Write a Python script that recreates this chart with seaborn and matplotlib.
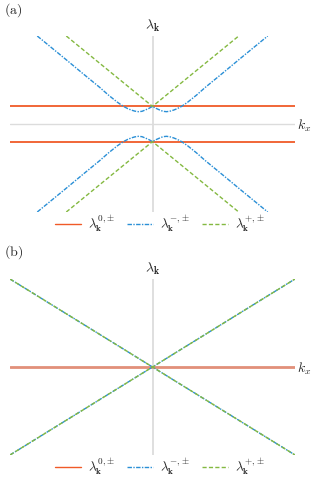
import matplotlib
matplotlib.use("Agg")
import matplotlib.pyplot as plt
import seaborn as sns
import pandas as pd
from matplotlib.lines import Line2D

sns.set_theme(style="white")
plt.rcParams["mathtext.fontset"] = "cm"
plt.rcParams["font.family"] = ["DejaVu Serif"]

# ---- data (panel a) ----
xlim = [-8.1, 8.1]
a_red_k = [-8.1, 8.1]
a_red_upper = [1.0, 1.0]
a_red_lower = [-1.0, -1.0]

a_blue_k = [-6.55, -5.0, -4.0, -3.0, -2.5, -2.0, -1.65, -1.4, -1.2, -1.0, -0.8, -0.6,
            -0.4, -0.2, 0.0, 0.2, 0.4, 0.6, 0.8, 1.0, 1.2, 1.4, 1.65, 2.0, 2.5,
            3.0, 4.0, 5.0, 6.55]
a_blue_upper = [5.0, 3.73, 2.9, 2.08, 1.64, 1.24, 1.0, 0.87, 0.79, 0.73, 0.70, 0.72,
                0.80, 0.89, 1.0, 0.89, 0.80, 0.72, 0.70, 0.73, 0.79, 0.87, 1.0, 1.24,
                1.64, 2.08, 2.9, 3.73, 5.0]
a_blue_lower = [-5.0, -3.73, -2.9, -2.08, -1.64, -1.24, -1.0, -0.87, -0.79, -0.73, -0.70, -0.72,
                -0.80, -0.89, -1.0, -0.89, -0.80, -0.72, -0.70, -0.73, -0.79, -0.87, -1.0, -1.24,
                -1.64, -2.08, -2.9, -3.73, -5.0]

a_green_k = [-4.9, 0.0, 4.9]
a_green_upper = [5.0, 1.0, 5.0]
a_green_lower = [-5.0, -1.0, -5.0]

# ---- data (panel b) ----
b_red_k = [-8.1, 8.1]
b_red = [0.0, 0.0]
b_diag_k = [-8.1, 0.0, 8.1]
b_upper = [5.0, 0.0, 5.0]
b_lower = [-5.0, 0.0, -5.0]

legend_labels = [r"$\lambda^{0,\!\pm}_{\mathbf{k}}$",
                 r"$\lambda^{-,\!\pm}_{\mathbf{k}}$",
                 r"$\lambda^{+,\!\pm}_{\mathbf{k}}$"]

RED = "#f05a28"
RED_B = "#e2907a"
BLUE = "#2a8fd6"
GREEN = "#84b941"
GRAY = "#dcdcdc"
BLUE_LS = (0, (3.2, 1.0, 1.0, 1.0))
GREEN_LS = (0, (3.0, 1.6))

W, H = 321, 482
fig = plt.figure(figsize=(W / 100, H / 100), dpi=100)
ax_a = fig.add_axes([10 / W, (H - 212) / H, 285 / W, 176 / H])
ax_b = fig.add_axes([10 / W, (H - 455) / H, 285 / W, 176 / H])


def line(ax, k, v, color, ls, lw=1.0, alpha=1.0, z=3):
    df = pd.DataFrame({"k": k, "v": v})
    sns.lineplot(data=df, x="k", y="v", ax=ax, color=color, linestyle=ls,
                 linewidth=lw, alpha=alpha, sort=False, estimator=None,
                 zorder=z, legend=False)


def frame(ax):
    ax.set_xlim(*xlim)
    ax.set_ylim(-5, 5)
    ax.axis("off")
    ax.plot(xlim, [0, 0], color=GRAY, lw=1.0, zorder=1)
    ax.plot([0, 0], [-5, 5], color=GRAY, lw=1.3, zorder=1)
    ax.text(0, 5.6, r"$\lambda_{\mathbf{k}}$", ha="center", va="center", fontsize=10,
            clip_on=False)
    ax.text(8.6, -0.1, r"$k_x$", ha="center", va="center", fontsize=10, clip_on=False)
    handles = [Line2D([], [], color=RED, lw=1.0),
               Line2D([], [], color=BLUE, lw=1.0, linestyle=BLUE_LS),
               Line2D([], [], color=GREEN, lw=1.0, linestyle=GREEN_LS)]
    ax.legend(handles, legend_labels, loc="center", bbox_to_anchor=(0.525, -0.065),
              ncol=3, frameon=False, fontsize=9.5, handlelength=2.0,
              handletextpad=0.5, columnspacing=0.9)


# panel (a)
frame(ax_a)
line(ax_a, a_red_k, a_red_upper, RED, "-", lw=1.3)
line(ax_a, a_red_k, a_red_lower, RED, "-", lw=1.3)
line(ax_a, a_blue_k, a_blue_upper, BLUE, BLUE_LS)
line(ax_a, a_blue_k, a_blue_lower, BLUE, BLUE_LS)
line(ax_a, a_green_k, a_green_upper, GREEN, GREEN_LS)
line(ax_a, a_green_k, a_green_lower, GREEN, GREEN_LS)

# panel (b)
frame(ax_b)
line(ax_b, b_red_k, b_red, RED_B, "-", lw=2.0)
line(ax_b, b_diag_k, b_upper, BLUE, BLUE_LS)
line(ax_b, b_diag_k, b_lower, BLUE, BLUE_LS)
line(ax_b, b_diag_k, b_upper, GREEN, GREEN_LS)
line(ax_b, b_diag_k, b_lower, GREEN, GREEN_LS)

fig.text(4 / W, 1 - 10 / H, r"$\mathrm{(a)}$", ha="left", va="center", fontsize=10)
fig.text(4 / W, 1 - 252 / H, r"$\mathrm{(b)}$", ha="left", va="center", fontsize=10)

fig.savefig("out.png", dpi=100)
